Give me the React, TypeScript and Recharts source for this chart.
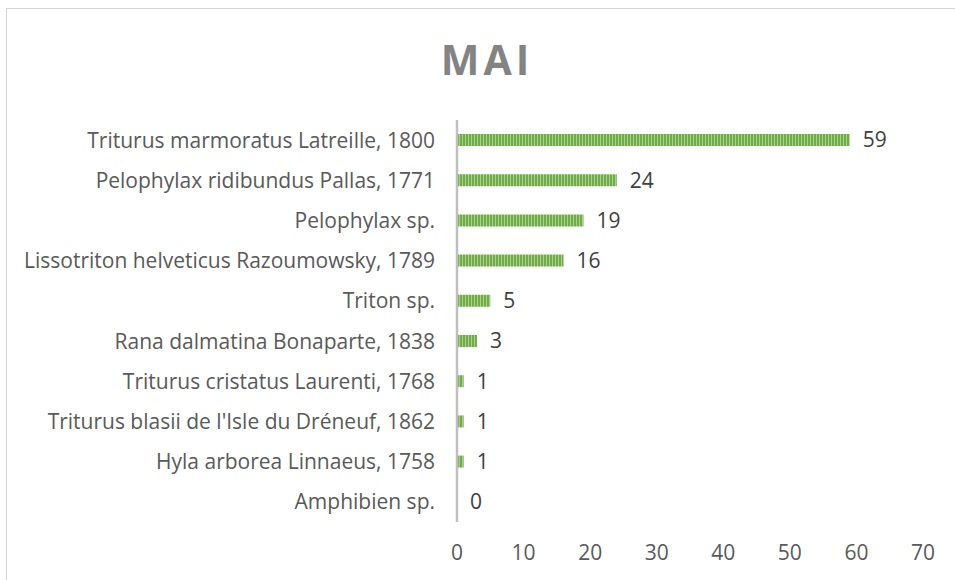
import { BarChart, Bar, XAxis, YAxis, LabelList } from "recharts";

// categories top to bottom, as in the picture
const species = [
  "Triturus marmoratus Latreille, 1800",
  "Pelophylax ridibundus Pallas, 1771",
  "Pelophylax sp.",
  "Lissotriton helveticus Razoumowsky, 1789",
  "Triton sp.",
  "Rana dalmatina Bonaparte, 1838",
  "Triturus cristatus Laurenti, 1768",
  "Triturus blasii de l'Isle du Dréneuf, 1862",
  "Hyla arborea Linnaeus, 1758",
  "Amphibien sp.",
];
const counts = [59, 24, 19, 16, 5, 3, 1, 1, 1, 0];
const xTicks = [0, 10, 20, 30, 40, 50, 60, 70];

const data = species.map((name, i) => ({ name, value: counts[i] }));

const FONT = "'Open Sans', sans-serif";

// label drawn by hand so that the zero bar still gets its "0"
const ValueLabel = (props: any) => {
  const { x, y, width, height, value } = props;
  return (
    <text
      x={Number(x) + Number(width) + 13}
      y={Number(y) + Number(height) / 2}
      dy="0.355em"
      fontSize={21}
      fill="#404040"
      fontFamily={FONT}
    >
      {String(value)}
    </text>
  );
};

export default function App() {
  return (
    <div
      style={{
        position: "fixed",
        left: 6,
        top: 8,
        width: 960,
        height: 580,
        borderTop: "1px solid #d4d4d4",
        borderLeft: "1px solid #d4d4d4",
        background: "#fff",
        fontFamily: FONT,
      }}
    >
      <div
        style={{
          position: "absolute",
          left: 0,
          width: 960,
          top: 22,
          textAlign: "center",
          fontSize: 41,
          fontWeight: 700,
          letterSpacing: 4,
          color: "#838383",
          lineHeight: "56px",
        }}
      >
        MAI
      </div>
      <BarChart
        width={948}
        height={571}
        data={data}
        layout="vertical"
        margin={{ top: 111, right: 32, bottom: 18, left: 0 }}
        barCategoryGap={0}
      >
        <defs>
          <pattern id="vstripes" width="3" height="4" patternUnits="userSpaceOnUse">
            <rect width="3" height="4" fill="#a9d18e" />
            <rect width="2" height="4" fill="#70ad47" />
          </pattern>
        </defs>
        <XAxis
          type="number"
          domain={[0, 70]}
          ticks={xTicks}
          axisLine={false}
          tickLine={false}
          height={40}
          tickMargin={17}
          tick={{ fontSize: 21, fill: "#595959", fontFamily: FONT }}
        />
        <YAxis
          type="category"
          dataKey="name"
          width={450}
          axisLine={{ stroke: "#bfbfbf", strokeWidth: 2.5 }}
          tickLine={false}
          tickSize={0}
          tickMargin={22}
          interval={0}
          tick={{ fontSize: 21, fill: "#595959", fontFamily: FONT }}
        />
        <Bar
          dataKey="value"
          fill="url(#vstripes)"
          barSize={12}
          minPointSize={0.01}
          isAnimationActive={false}
        >
          <LabelList dataKey="value" content={ValueLabel} />
        </Bar>
      </BarChart>
    </div>
  );
}
